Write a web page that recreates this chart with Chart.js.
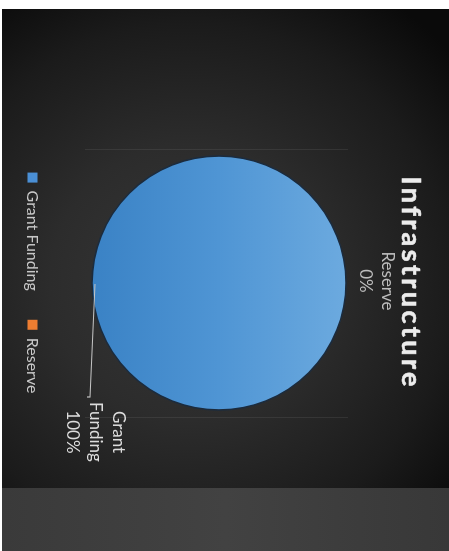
<!DOCTYPE html>
<html>
<head>
<meta charset="utf-8">
<script src="https://cdn.jsdelivr.net/npm/chart.js@4.4.1/dist/chart.umd.min.js"></script>
<style>
  html, body { margin: 0; padding: 0; background: #fff; overflow: hidden; }
  /* the slide is laid out landscape and turned a quarter clockwise */
  #slide {
    position: absolute; left: 0; top: 0; width: 551px; height: 449px;
    transform-origin: 0 0; transform: translate(449px, 0) rotate(90deg);
  }
  #panel {
    position: absolute; left: 9px; top: 0; width: 479px; height: 447px;
    background: radial-gradient(ellipse 72% 78% at 57% 58%, #373737 0%, #2c2c2c 40%, #1b1b1b 75%, #0a0a0a 100%);
  }
  #band {
    position: absolute; left: 488px; top: 0; width: 63px; height: 447px;
    background: linear-gradient(to bottom, #383838, #424242 50%, #3a3a3a);
  }
  canvas { position: absolute; left: 0; top: 0; }
</style>
</head>
<body>
<div id="slide">
  <div id="panel"></div>
  <div id="band"></div>
  <canvas id="chart" width="551" height="449"></canvas>
</div>
<script>
const chartTitle = 'Infrastructure';
const categories = ['Grant Funding', 'Reserve'];
const funding = [100, 0];
const sliceColors = ['#4a8fd5', '#ed7d31'];

const PIE_RADIUS = 127;

// Grant slice gets a soft top-to-bottom shade
function sliceFill(context) {
  const { chart, dataIndex } = context;
  const area = chart.chartArea;
  if (dataIndex !== 0 || !area) return sliceColors[dataIndex];
  const cy = (area.top + area.bottom) / 2;
  const g = chart.ctx.createLinearGradient(0, cy - PIE_RADIUS, 0, cy + PIE_RADIUS);
  g.addColorStop(0, '#6caadf');
  g.addColorStop(0.5, '#4f95d4');
  g.addColorStop(1, '#3a82c5');
  return g;
}

const plotEdges = {
  id: 'plotEdges',
  beforeDatasetsDraw(chart) {
    const { ctx, chartArea } = chart;
    const cx = (chartArea.left + chartArea.right) / 2;
    const cy = (chartArea.top + chartArea.bottom) / 2;
    ctx.save();
    ctx.strokeStyle = 'rgba(255,255,255,0.07)';
    ctx.lineWidth = 1;
    ctx.beginPath();
    [-134, 134].forEach(dx => {
      ctx.moveTo(Math.round(cx + dx) + 0.5, cy - 129);
      ctx.lineTo(Math.round(cx + dx) + 0.5, cy + 134);
    });
    ctx.stroke();
    ctx.restore();
  }
};

// dark rim round the whole pie (the arc border would also stroke a radius)
const pieRim = {
  id: 'pieRim',
  afterDatasetsDraw(chart) {
    const arc = chart.getDatasetMeta(0).data[0];
    if (!arc) return;
    const { x, y, outerRadius } = arc.getProps(['x', 'y', 'outerRadius'], true);
    const { ctx } = chart;
    ctx.save();
    ctx.strokeStyle = '#1b2b3d';
    ctx.lineWidth = 1.6;
    ctx.beginPath();
    ctx.arc(x, y, outerRadius, 0, Math.PI * 2);
    ctx.stroke();
    ctx.restore();
  }
};

const sliceLabels = {
  id: 'sliceLabels',
  afterDatasetsDraw(chart) {
    const { ctx } = chart;
    const meta = chart.getDatasetMeta(0);
    const total = funding.reduce((a, b) => a + b, 0);
    ctx.save();
    ctx.font = '17px Lato';
    ctx.textAlign = 'center';
    ctx.textBaseline = 'alphabetic';
    meta.data.forEach((arc, i) => {
      const { x, y, startAngle, endAngle, outerRadius } =
        arc.getProps(['x', 'y', 'startAngle', 'endAngle', 'outerRadius'], true);
      const mid = (startAngle + endAngle) / 2;
      const ex = x + Math.cos(mid) * outerRadius;
      const ey = y + Math.sin(mid) * outerRadius;
      const pct = Math.round(funding[i] / total * 100) + '%';
      if (funding[i] === 0) {
        // empty slice: name and value stacked above the edge
        ctx.fillStyle = '#bcbcbc';
        ctx.fillText(categories[i], ex - 2, ey - 36);
        ctx.fillText(pct, ex - 2, ey - 14);
      } else {
        // leader line out to the label on the right
        ctx.strokeStyle = '#c4c4c4';
        ctx.lineWidth = 1.2;
        ctx.beginPath();
        ctx.moveTo(ex + 1, ey - 3);
        ctx.lineTo(ex + 114, ey + 2);
        ctx.lineTo(ex + 114, ey + 5);
        ctx.stroke();
        ctx.fillStyle = '#dcdcdc';
        const lines = categories[i].split(' ').concat(pct);
        lines.forEach((t, k) => ctx.fillText(t, ex + 149, ey - 21 + k * 23));
      }
    });
    ctx.restore();
  }
};

const spacedTitle = {
  id: 'spacedTitle',
  afterDraw(chart) {
    const { ctx, chartArea } = chart;
    const cx = (chartArea.left + chartArea.right) / 2;
    const spacing = 3.4;
    ctx.save();
    ctx.font = 'bold 27px Lato';
    ctx.letterSpacing = spacing + 'px';
    ctx.fillStyle = '#ececec';
    ctx.strokeStyle = '#ececec';
    ctx.lineWidth = 0.6;
    ctx.textAlign = 'left';
    ctx.textBaseline = 'alphabetic';
    const w = ctx.measureText(chartTitle).width - spacing;
    const tx = cx - 1.5 - w / 2;
    ctx.fillText(chartTitle, tx, 47);
    ctx.strokeText(chartTitle, tx, 47);
    ctx.restore();
  }
};

new Chart(document.getElementById('chart'), {
  type: 'pie',
  data: {
    labels: categories,
    datasets: [{
      data: funding,
      backgroundColor: sliceFill,
      borderWidth: 0,
      radius: PIE_RADIUS
    }]
  },
  options: {
    responsive: false,
    animation: false,
    events: [],
    layout: { padding: { left: 15, top: 80.5, bottom: 14.5 } },
    plugins: {
      title: { display: false },
      tooltip: { enabled: false },
      legend: {
        position: 'bottom',
        labels: {
          font: { family: 'Lato', size: 16 },
          color: '#c8c8c8',
          boxWidth: 10,
          boxHeight: 10,
          padding: 29,
          generateLabels(chart) {
            const items = Chart.overrides.pie.plugins.legend.labels.generateLabels(chart);
            items.forEach((it, i) => {
              it.fillStyle = sliceColors[i];
              it.strokeStyle = sliceColors[i];
              it.lineWidth = 0;
            });
            return items;
          }
        }
      }
    }
  },
  plugins: [plotEdges, pieRim, sliceLabels, spacedTitle]
});
</script>
</body>
</html>
